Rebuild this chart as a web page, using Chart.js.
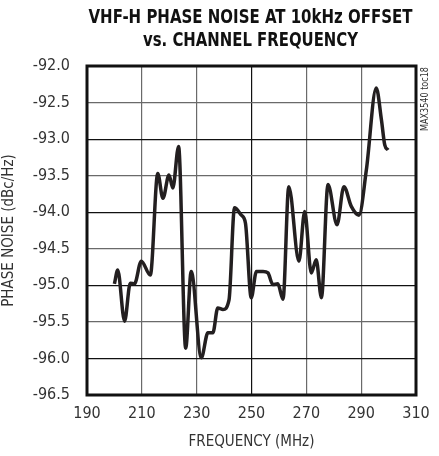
<!DOCTYPE html>
<html>
<head>
<meta charset="utf-8">
<script src="https://cdn.jsdelivr.net/npm/chart.js@4.4.1/dist/chart.umd.min.js"></script>
<style>
  html, body { margin: 0; padding: 0; background: #fff; }
  #wrap { width: 439px; height: 456px; }
</style>
</head>
<body>
<div id="wrap"><canvas id="chart" width="439" height="456"></canvas></div>
<script>
// values (MHz, dBc/Hz)
var freq = [200, 201.2, 203.7, 205.8, 207.3, 209.8, 213.1, 215.8, 217.7, 219.9, 221.3, 223.4,
  226.0, 228.0, 231.7, 234.1, 235.9, 237.7, 239.6, 241.8, 243.8, 246.3, 247.8, 249.9,
  251.8, 254.2, 256.0, 257.8, 259.6, 261.5, 263.6, 267.3, 269.4, 271.8, 273.6, 275.5,
  277.9, 281.2, 283.7, 286.4, 289.2, 291.9, 295.5, 297.4, 298.6, 299.8];
var noise = [-94.98, -94.79, -95.49, -94.97, -94.98, -94.67, -94.86, -93.47, -93.81, -93.49, -93.67, -93.10,
  -95.86, -94.81, -95.99, -95.65, -95.65, -95.31, -95.33, -95.20, -93.94, -94.04, -94.15, -95.17,
  -94.81, -94.81, -94.83, -94.99, -94.98, -95.19, -93.65, -94.67, -93.99, -94.83, -94.65, -95.17,
  -93.62, -94.17, -93.65, -93.92, -94.04, -93.42, -92.30, -92.74, -93.08, -93.15];
var xTicks = [190, 210, 230, 250, 270, 290, 310];
var titleLines = ['VHF-H PHASE NOISE AT 10kHz OFFSET', 'vs. CHANNEL FREQUENCY'];

var FONT = '"DejaVu Sans Condensed", "Liberation Sans Narrow", sans-serif';

var points = [];
for (var i = 0; i < freq.length; i++) {
  points.push({ x: freq[i], y: noise[i] });
}

// title (squeezed to the narrow look of the original), thick frame, part-number tag
var framePlugin = {
  id: 'frame',
  afterDraw: function (chart) {
    var c = chart.ctx, a = chart.chartArea;
    var mid = (a.left + a.right) / 2 - 1;
    c.save();
    c.fillStyle = '#111';
    c.font = 'bold 20px ' + FONT;
    c.textAlign = 'center';
    c.textBaseline = 'alphabetic';
    c.fillText(titleLines[0], mid, 23, 324);
    c.fillText(titleLines[1], mid, 46, 215);

    c.strokeStyle = '#111';
    c.lineWidth = 3;
    c.strokeRect(a.left, a.top, a.right - a.left, a.bottom - a.top);

    c.translate(a.right + 9, a.top + 33);
    c.rotate(-Math.PI / 2);
    c.font = '10px ' + FONT;
    c.fillStyle = '#333';
    c.textBaseline = 'middle';
    c.fillText('MAX3540 toc18', 0, 0, 64);
    c.restore();
  }
};

new Chart(document.getElementById('chart'), {
  type: 'line',
  data: {
    datasets: [{
      data: points,
      borderColor: '#231f20',
      borderWidth: 3.5,
      pointRadius: 0,
      fill: false,
      cubicInterpolationMode: 'monotone'
    }]
  },
  options: {
    responsive: false,
    animation: false,
    layout: { padding: { left: 0, right: 23, top: 66, bottom: 0 } },
    plugins: {
      legend: { display: false },
      tooltip: { enabled: false },
      title: { display: false }
    },
    scales: {
      x: {
        type: 'linear',
        min: 190,
        max: 310,
        afterBuildTicks: function (scale) {
          scale.ticks = xTicks.map(function (v) { return { value: v }; });
        },
        afterFit: function (scale) { scale.height = 61; },
        grid: {
          drawTicks: false,
          lineWidth: 1.2,
          color: function (ctx) { return ctx.tick && ctx.tick.value === 250 ? '#111' : '#6a6a6a'; }
        },
        border: { display: false },
        ticks: {
          color: '#333',
          padding: 9,
          maxRotation: 0,
          font: { family: FONT, size: 16 }
        },
        title: {
          display: true,
          text: 'FREQUENCY (MHz)',
          color: '#333',
          font: { family: FONT, size: 15 },
          padding: { top: 2, bottom: 5 }
        }
      },
      y: {
        min: -96.5,
        max: -92,
        afterFit: function (scale) { scale.width = 87; },
        grid: {
          drawTicks: false,
          lineWidth: 1.2,
          color: function (ctx) { return ctx.index % 2 === 1 ? '#111' : '#6a6a6a'; }
        },
        border: { display: false },
        ticks: {
          stepSize: 0.5,
          color: '#333',
          padding: 17,
          font: { family: FONT, size: 16 },
          callback: function (v) { return v.toFixed(1); }
        },
        title: {
          display: true,
          text: 'PHASE NOISE (dBc/Hz)',
          color: '#333',
          font: { family: FONT, size: 15 },
          padding: { top: 0, bottom: 4 }
        }
      }
    }
  },
  plugins: [framePlugin]
});
</script>
</body>
</html>
